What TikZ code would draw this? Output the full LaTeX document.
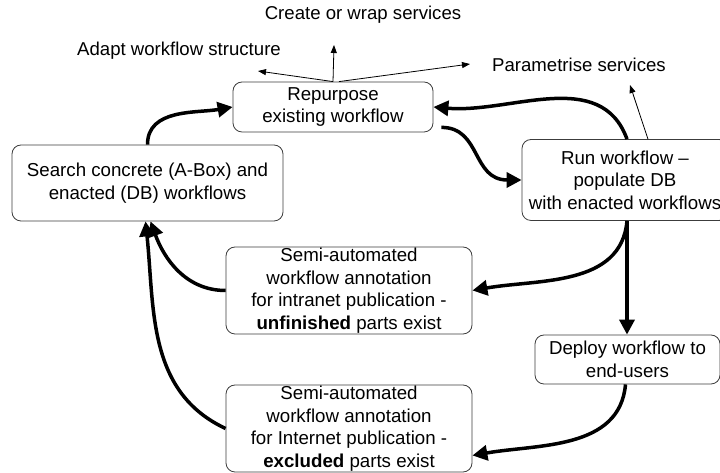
\documentclass[tikz,border=0pt]{standalone}
\usepackage{fontspec}
\setmainfont{Liberation Sans}
\usepackage{tikz}
\usetikzlibrary{arrows.meta, positioning}
\definecolor{myframe}{RGB}{60,60,60}

\begin{document}
\begin{tikzpicture}[x=1pt, y=1pt,
      box/.style={draw=myframe, line width=0.8pt, rounded corners=9pt, inner sep=0pt,
                  minimum width=#1, align=center,
                  font=\fontsize{18.7}{22.5}\selectfont},
      lbl/.style={font=\fontsize{18.6}{22.5}\selectfont},
      bigarr/.style={-{Triangle[length=15pt,width=15pt]}, line width=3.5pt},
      thinarr/.style={-{Triangle[length=8pt,width=6pt]}, line width=0.8pt}
  ]
    \useasboundingbox (0,0) rectangle (720,473);

    \node[box=200pt, minimum height=50pt] (repurp) at (333,366)
      {Repurpose\\existing workflow};

    \node[box=271pt, minimum height=76pt] (search) at (147.5,290)
      {Search concrete (A-Box) and\\enacted (DB) workflows};

    \node[box=206pt, minimum height=81pt] (run) at (625,293)
      {Run workflow --\\populate DB\\with enacted workflows};

    \node[box=246pt, minimum height=87pt] (intra) at (349,182.5)
      {Semi-automated\\workflow annotation\\for intranet publication -\\\textbf{unfinished} parts exist};

    \node[box=185pt, minimum height=49pt] (deploy) at (627.5,113.5)
      {Deploy workflow to\\end-users};

    \node[box=246pt, minimum height=87pt] (inter) at (349,44.5)
      {Semi-automated\\workflow annotation\\for Internet publication -\\\textbf{excluded} parts exist};

    % labels of the repurpose step
    \node[lbl] (create) at (363,458) {Create or wrap services};
    \node[lbl] (adapt) at (179,422) {Adapt workflow structure};
    \node[lbl] (param) at (579,408) {Parametrise services};

    \coordinate (tipcreate) at (334,428);
    \coordinate (tipadapt) at (258,402);
    \coordinate (tipparam) at (470,409);
    \coordinate (tiprun) at (630,388);

    \draw[thinarr] (repurp.north) -- (tipcreate);
    \draw[thinarr] (repurp.north) -- (tipadapt);
    \draw[thinarr] ([xshift=6pt]repurp.north) -- (tipparam);
    \draw[thinarr] ([xshift=23pt]run.north) -- (tiprun);

    % main cycle
    \draw[bigarr] (search.north) to[out=90, in=190] (repurp.west);
    \draw[bigarr] ([xshift=8pt,yshift=5pt]repurp.south east)
      .. controls +(40,0) and +(-50,0) .. (run.west);
    \draw[bigarr] ([xshift=2pt]run.north) to[out=110, in=-5] (repurp.east);
    \draw[bigarr] ([xshift=2pt]run.south) to[out=-95, in=10] (intra.east);
    \draw[bigarr] ([xshift=2pt]run.south) -- ([xshift=2pt]run.south |- deploy.north);
    \draw[bigarr] ([xshift=-2pt]deploy.south) to[out=-95, in=10] ([yshift=-27pt]inter.east);
    \draw[bigarr] (intra.west) to[out=180, in=-70] ([xshift=3pt]search.south);
    \draw[bigarr] (inter.west) to[out=155, in=-84] ([xshift=-2pt]search.south);
\end{tikzpicture}
\end{document}
